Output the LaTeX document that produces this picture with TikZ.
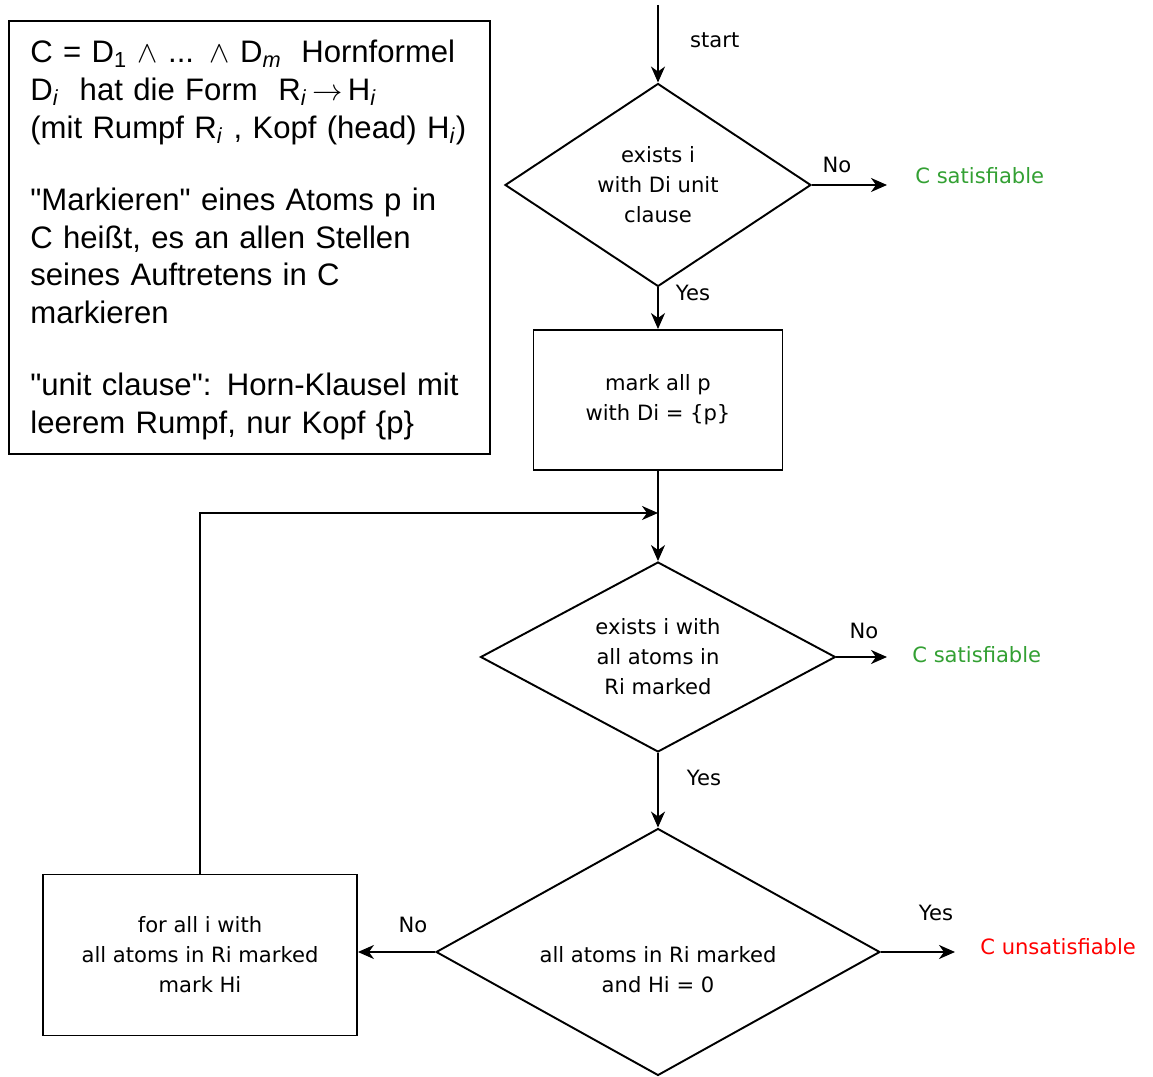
\documentclass[tikz,border=0pt]{standalone}
\usepackage{fontspec}
\newfontfamily\notefont{Liberation Sans}
\newfontfamily\flowfont{DejaVu Sans}
\usepackage{tikz}
\usetikzlibrary{shapes.geometric}
\usetikzlibrary{arrows.meta, positioning}
\usepackage{xcolor}
\definecolor{satgreen}{RGB}{51,160,51}
\definecolor{unsatred}{RGB}{255,0,0}

\tikzset{
    flow/.style={font=\flowfont\fontsize{12}{17}\selectfont, align=center},
    decision/.style={flow, draw, diamond, inner sep=0pt, line width=1.1pt},
    stepbox/.style={flow, draw, rectangle, inner sep=0pt, line width=1.1pt},
    answer/.style={flow, inner sep=0pt, anchor=west},
    arr/.style={-{Stealth[length=3.2mm,width=2.8mm,inset=1mm]}, line width=1.1pt}
}

\begin{document}
\begin{tikzpicture}[x=0.02cm, y=-0.02cm]
    \useasboundingbox (0,0) rectangle (1153,1077);

    % explanation
    \node (frame) [draw, line width=1.1pt, anchor=north west,
        minimum width=9.62cm, minimum height=8.66cm] at (8,20) {};
    \node (note) [anchor=north west, align=left, inner sep=0pt, text width=9.3cm,
        font=\notefont\fontsize{17.7}{21.4}\selectfont] at (30,40)
    {
        C = D\textsubscript{1} {$\wedge$} ... {$\wedge$} D\textsubscript{\textit{m}}\hspace{0.3em} Hornformel\\
        D\textsubscript{\textit{i}}\ \ hat die Form\ \ R\textsubscript{\textit{i}}\,$\rightarrow$\,H\textsubscript{\textit{i}}\\
        (mit Rumpf R\textsubscript{\textit{i}} , Kopf (head) H\textsubscript{\textit{i}})\\[19.8pt]
        "Markieren" eines Atoms p in\\
        C heißt, es an allen Stellen\\
        seines Auftretens in C\\
        markieren\\[19.8pt]
        "unit clause": Horn-Klausel mit\\
        leerem Rumpf, nur Kopf \{p\}
    };

    % flow chart
    \coordinate (begin) at (658,5);
    \node (start) [flow, anchor=west] at (684,40) {start};
    \node (unit) [decision, aspect=1.5, minimum width=6.12cm, minimum height=4.06cm] at (658,185)
        {exists i\\ with Di unit\\ clause};
    \node (sat1) [answer, text=satgreen] at (915,176) {C satisfiable};
    \node (mark) [stepbox, minimum width=4.98cm, minimum height=2.8cm] at (658,400)
        {mark all p\\ with Di = \{p\}};
    \coordinate (join) at (658,513);
    \node (body) [decision, aspect=1.87, minimum width=7.1cm, minimum height=3.8cm] at (658,657)
        {exists i with\\ all atoms in\\ Ri marked};
    \node (sat2) [answer, text=satgreen] at (912,655) {C satisfiable};
    \node (clash) [decision, aspect=1.8, minimum width=8.88cm, minimum height=4.94cm] at (658,952)
        {\rule{0pt}{1em}\\ all atoms in Ri marked\\ and Hi = 0};
    \node (unsat) [answer, text=unsatred] at (980,947) {C unsatisfiable};
    \node (head) [stepbox, minimum width=6.28cm, minimum height=3.22cm] at (200,955)
        {for all i with\\ all atoms in Ri marked\\ mark Hi};

    \node (no1) [flow] at (837,165) {No};
    \node (yes1) [flow] at (693,293) {Yes};
    \node (no2) [flow] at (864,631) {No};
    \node (yes2) [flow] at (704,778) {Yes};
    \node (yes3) [flow] at (936,913) {Yes};
    \node (no3) [flow] at (413,925) {No};

    \draw[arr] (begin) -- (unit.north);
    \draw[arr, shorten >=0.56cm] (unit.east) -- (unit.east -| sat1.west);
    \draw[arr] (unit.south) -- (mark.north);
    \draw[arr] (mark.south) -- (body.north);
    \draw[arr] (head.north) |- (join);
    \draw[arr, shorten >=0.5cm] (body.east) -- (body.east -| sat2.west);
    \draw[arr] (body.south) -- (clash.north);
    \draw[arr, shorten >=0.5cm] (clash.east) -- (clash.east -| unsat.west);
    \draw[arr] (clash.west) -- (clash.west -| head.east);
\end{tikzpicture}
\end{document}
